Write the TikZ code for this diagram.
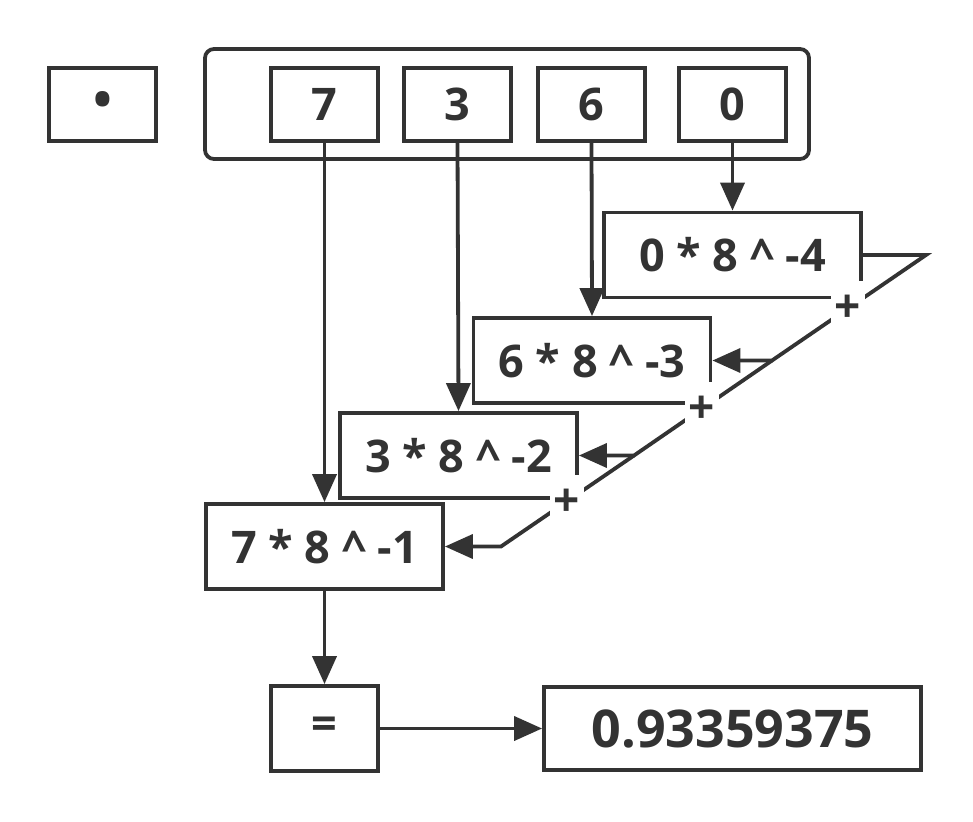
\documentclass[tikz,border=0pt]{standalone}
\usepackage{fontspec}
\setmainfont{Open Sans}
\usetikzlibrary{arrows.meta}
\definecolor{ink}{HTML}{333333}
\begin{document}
\begin{tikzpicture}[x=1pt,y=-1pt,
  box/.style={draw=ink, line width=3.8pt, inner sep=0pt, text=ink,
    font=\fontsize{45}{48}\selectfont\bfseries},
  digit/.style={box, minimum width=107pt, minimum height=73pt},
  term/.style={box, minimum width=237pt, minimum height=85pt},
  container/.style={draw=ink, line width=3.8pt, rounded corners=9pt, inner sep=0pt},
  arr/.style={draw=ink, line width=3.8pt, -{Triangle[length=28pt,width=24pt]}},
  plus/.style={fill=white, text=ink, inner sep=0pt, minimum width=34pt, minimum height=56pt,
    font=\fontsize{46}{48}\selectfont\bfseries}
]
\useasboundingbox (0,0) rectangle (973,821);
% top row
\node[digit] (dot) at (102.5,104.5) {\fontsize{50}{50}\selectfont •};
\node[container, minimum width=604pt, minimum height=110pt] (cont) at (507,104) {};
\node[digit] (d7) at (324.5,104.5) {7};
\node[digit] (d3) at (457.5,104.5) {3};
\node[digit] (d6) at (591.5,104.5) {6};
\node[digit] (d0) at (732.5,104.5) {0};
% terms
\node[term, minimum width=257pt] (p0) at (732.5,255) {0 * 8 \^{} -4};
\node[term] (p6) at (592,360.5) {6 * 8 \^{} -3};
\node[term] (p3) at (458.5,455.5) {3 * 8 \^{} -2};
\node[term] (p7) at (324.5,546.5) {7 * 8 \^{} -1};
% result
\node[box, minimum width=107pt, minimum height=85pt] (eq) at (324.5,728.5) {=};
\node[box, minimum width=377pt, minimum height=83pt, font=\fontsize{52}{54}\selectfont\bfseries] (res) at (732.5,728.5) {0.93359375};
% vertical arrows
\draw[arr] (d7.south) -- (p7.north);
\draw[arr] (d3.south) -- (p3.north);
\draw[arr] (d6.south) -- (p6.north);
\draw[arr] (d0.south) -- (p0.north);
\draw[arr] (p7.south) -- (eq.north);
\draw[arr] (eq.east) -- (res.west);
% summation chain
\coordinate (j0) at (926,255);
\coordinate (j1) at (772,360.5);
\coordinate (j2) at (634,455.5);
\coordinate (j3) at (501,546.5);
\draw[arr, line join=miter] (p0.east) -- (j0) -- (j1) -- (p6.east);
\draw[arr] (j1) -- (j2) -- (p3.east);
\draw[arr] (j2) -- (j3) -- (p7.east);
\node[plus] (s1) at (848,309) {+};
\node[plus] (s2) at (702,410) {+};
\node[plus] (s3) at (567,503) {+};
\end{tikzpicture}
\end{document}
